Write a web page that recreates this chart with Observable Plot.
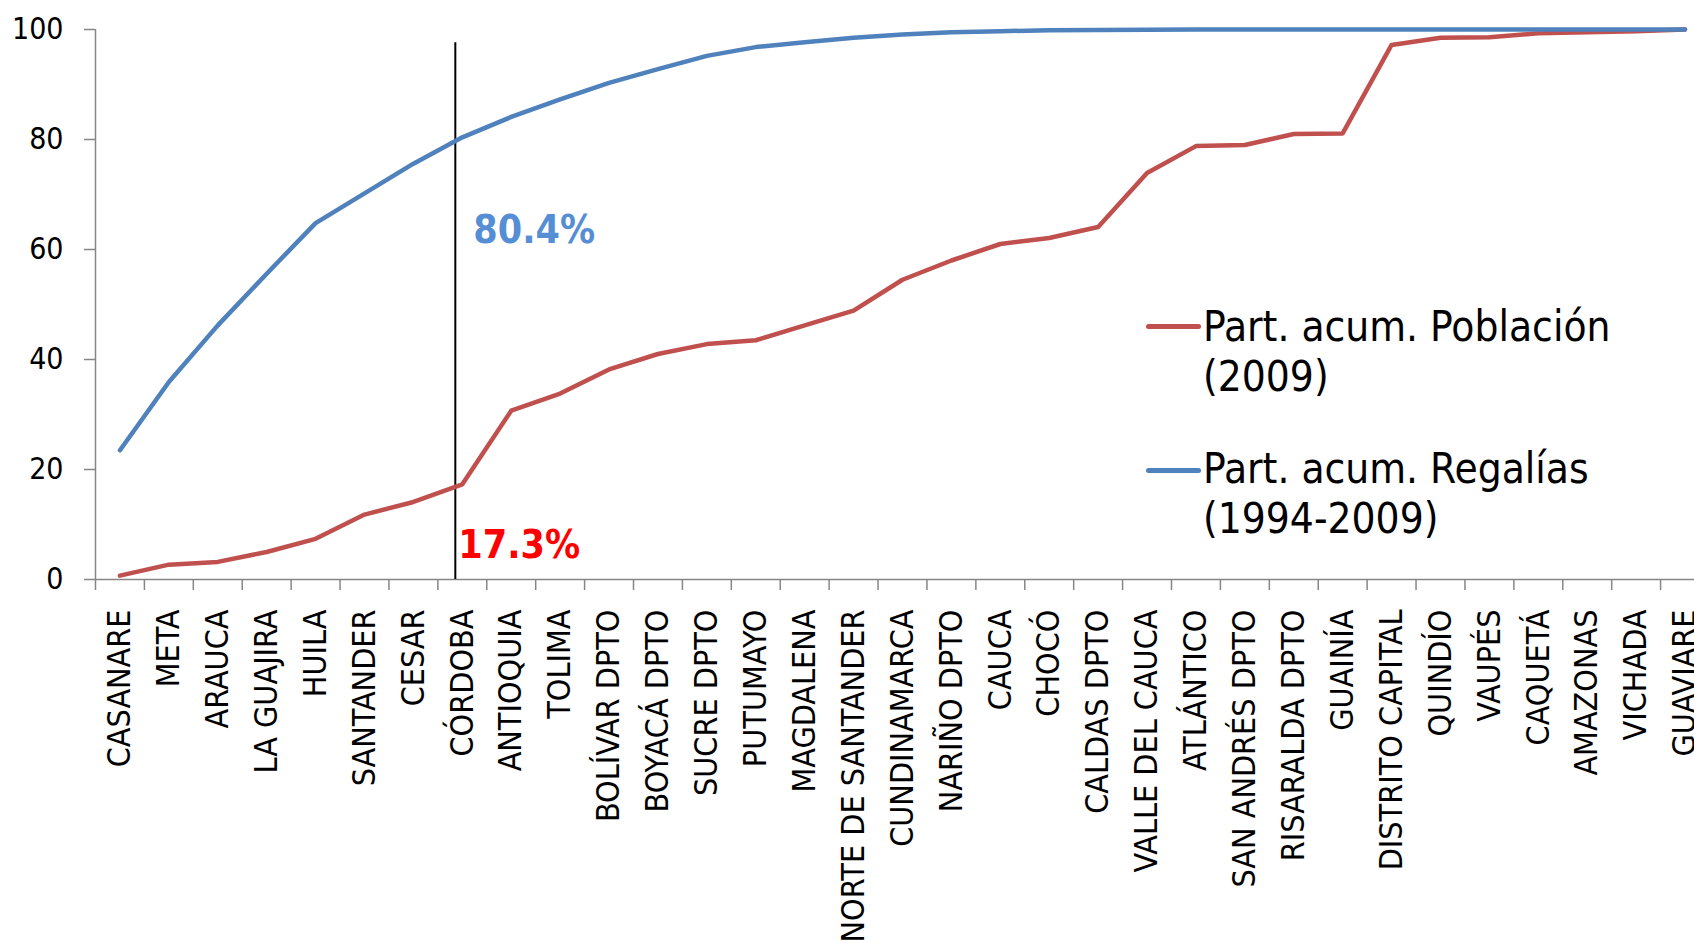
<!DOCTYPE html>
<html><head><meta charset="utf-8">
<script src="https://cdn.jsdelivr.net/npm/d3@7"></script>
<script src="https://cdn.jsdelivr.net/npm/@observablehq/plot@0.6"></script>
<style>
html,body{margin:0;padding:0;background:#fff;overflow:hidden}
#wrap{position:relative;width:1694px;height:943px;font-family:'DejaVu Sans Condensed','DejaVu Sans',sans-serif;font-stretch:condensed}
.sw{position:absolute;height:4.5px;border-radius:3px}
.lt{position:absolute;font-size:42px;line-height:50px;color:#000;white-space:nowrap}
</style></head>
<body><div id="wrap"></div>
<script>
const categories = ["CASANARE","META","ARAUCA","LA GUAJIRA","HUILA","SANTANDER","CESAR","CÓRDOBA","ANTIOQUIA","TOLIMA","BOLÍVAR DPTO","BOYACÁ DPTO","SUCRE DPTO","PUTUMAYO","MAGDALENA","NORTE DE SANTANDER","CUNDINAMARCA","NARIÑO DPTO","CAUCA","CHOCÓ","CALDAS DPTO","VALLE DEL CAUCA","ATLÁNTICO","SAN ANDRÉS DPTO","RISARALDA DPTO","GUAINÍA","DISTRITO CAPITAL","QUINDÍO","VAUPÉS","CAQUETÁ","AMAZONAS","VICHADA","GUAVIARE"];
const poblacion = [0.7,2.7,3.2,5.0,7.4,11.8,14.1,17.3,30.7,33.8,38.2,41.0,42.8,43.5,46.2,48.9,54.5,58.0,61.0,62.1,64.1,73.9,78.8,79.0,81.0,81.1,97.2,98.5,98.6,99.3,99.5,99.7,100];
const regalias = [23.5,35.9,46.2,55.6,64.8,70.2,75.6,80.4,84.1,87.3,90.3,92.8,95.2,96.8,97.7,98.5,99.1,99.5,99.7,99.85,99.9,99.95,100,100,100,100,100,100,100,100,100,100,100];
const yTicks = [0,20,40,60,80,100];
const seriesNames = ["Part. acum. Población (2009)","Part. acum. Regalías (1994-2009)"];
const seriesColors = ["#C0504D","#4F81BD"];
const markerCategory = "CÓRDOBA";
const markerTop = 97.6;

const rows = [];
categories.forEach((c,i)=>{
  rows.push({cat:c, series:seriesNames[0], value:poblacion[i]});
  rows.push({cat:c, series:seriesNames[1], value:regalias[i]});
});
const mi = categories.indexOf(markerCategory);
const xRange = [95, 1709];
const step = (xRange[1]-xRange[0])/categories.length;
const axisGray = "#868686";

const chart = Plot.plot({
  width: 1694, height: 943,
  marginTop: 29, marginBottom: 364, marginLeft: 95, marginRight: 0,
  style: {fontFamily: "'DejaVu Sans Condensed','DejaVu Sans',sans-serif", background: "#fff", overflow: "hidden"},
  x: {type: "point", domain: categories, range: xRange, padding: 0.5, round: false, axis: null},
  y: {domain: [0,100], range: [579, 29], axis: null},
  color: {domain: seriesNames, range: seriesColors},
  marks: [
    Plot.axisY(yTicks, {tickSize: 11, tickPadding: 21, fontSize: 30, stroke: axisGray, strokeWidth: 1.5, fill: "#000", label: null, tickFormat: d => String(d)}),
    Plot.ruleX([categories[0]], {dx: -step/2, y1: 0, y2: 100, stroke: axisGray, strokeWidth: 1.5}),
    Plot.ruleY([0], {stroke: axisGray, strokeWidth: 1.5}),
    Plot.ruleX(categories, {dx: -step/2, y1: 0, y2: -2, stroke: axisGray, strokeWidth: 1.5}),
    Plot.ruleX([categories[categories.length-1]], {dx: step/2, y1: 0, y2: -2, stroke: axisGray, strokeWidth: 1.5}),
    Plot.text(categories, {x: d => d, y: 0, dy: 30, rotate: -90, textAnchor: "end", lineAnchor: "middle", fontSize: 32, fill: "#000"}),
    Plot.ruleX([markerCategory], {dx: -7, y1: 0, y2: markerTop, stroke: "#000", strokeWidth: 2}),
    Plot.line(rows, {x: "cat", y: "value", z: "series", stroke: "series", strokeWidth: 4.5, strokeLinejoin: "round", strokeLinecap: "round"}),
    Plot.text([{cat: markerCategory, v: regalias[mi]}], {x: "cat", y: "v", text: d => d.v.toFixed(1) + "%", textAnchor: "start", dx: 11, dy: 93, fontSize: 39, fontWeight: "bold", fill: "#558ED5"}),
    Plot.text([{cat: markerCategory, v: poblacion[mi]}], {x: "cat", y: "v", text: d => d.v.toFixed(1) + "%", textAnchor: "start", dx: -4, dy: 61, fontSize: 39, fontWeight: "bold", fill: "#FF0000"})
  ]
});
const wrap = document.getElementById("wrap");
wrap.appendChild(chart);

// legend (inside plot area, right)
const legendItems = [
  {name: seriesNames[0], color: seriesColors[0], swatchY: 326.7, textTop: 302},
  {name: seriesNames[1], color: seriesColors[1], swatchY: 470.7, textTop: 444}
];
legendItems.forEach(it => {
  const sw = document.createElement("div");
  sw.className = "sw";
  sw.style.left = "1146px"; sw.style.width = "55px";
  sw.style.top = (it.swatchY - 2.25) + "px";
  sw.style.background = it.color;
  wrap.appendChild(sw);
  const t = document.createElement("div");
  t.className = "lt";
  t.style.left = "1203px"; t.style.top = it.textTop + "px";
  const k = it.name.lastIndexOf(" (");
  t.appendChild(document.createTextNode(it.name.slice(0,k)));
  t.appendChild(document.createElement("br"));
  t.appendChild(document.createTextNode(it.name.slice(k+1)));
  wrap.appendChild(t);
});
</script>
</body></html>
